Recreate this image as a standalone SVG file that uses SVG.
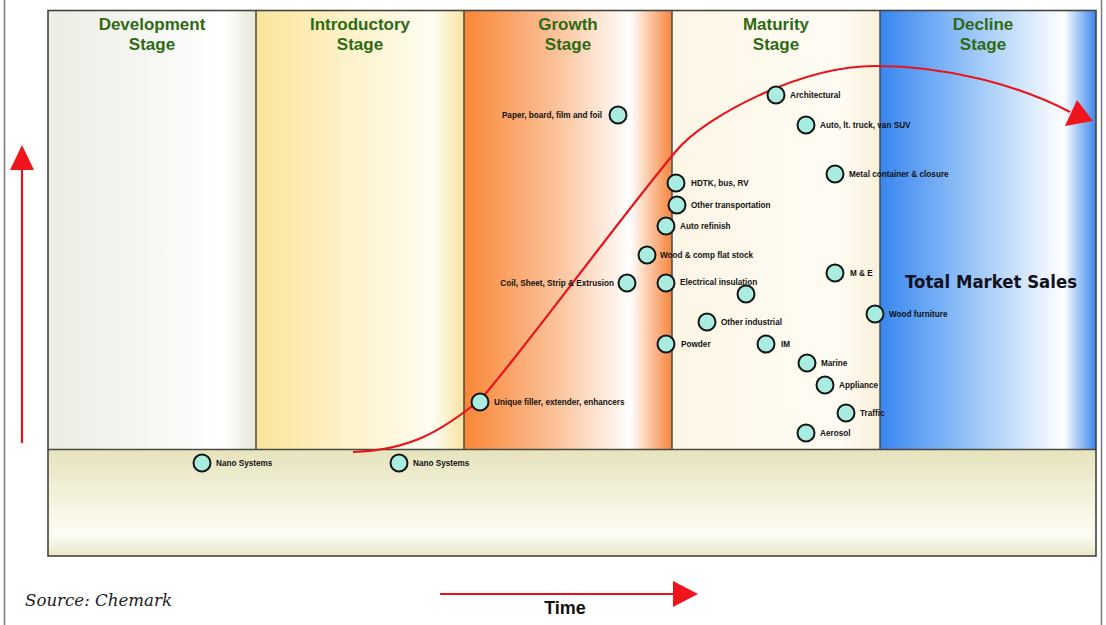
<svg xmlns="http://www.w3.org/2000/svg" width="1106" height="625" viewBox="0 0 1106 625">
  <defs>
    <linearGradient id="gDev" x1="0" y1="0" x2="1" y2="0">
      <stop offset="0" stop-color="#ebece3"/>
      <stop offset="0.85" stop-color="#ffffff"/>
      <stop offset="1" stop-color="#e6e6da"/>
    </linearGradient>
    <linearGradient id="gIntro" x1="0" y1="0" x2="1" y2="0">
      <stop offset="0" stop-color="#fbe59c"/>
      <stop offset="0.85" stop-color="#fffdf2"/>
      <stop offset="1" stop-color="#f7e4a2"/>
    </linearGradient>
    <linearGradient id="gGrowth" x1="0" y1="0" x2="1" y2="0">
      <stop offset="0" stop-color="#f98636"/>
      <stop offset="0.45" stop-color="#fcc39c"/>
      <stop offset="0.8" stop-color="#ffffff"/>
      <stop offset="1" stop-color="#f7843a"/>
    </linearGradient>
    <linearGradient id="gMature" x1="0" y1="0" x2="1" y2="0">
      <stop offset="0" stop-color="#fdf6e6"/>
      <stop offset="0.8" stop-color="#fffcf4"/>
      <stop offset="1" stop-color="#faf0da"/>
    </linearGradient>
    <linearGradient id="gDecline" x1="0" y1="0" x2="1" y2="0">
      <stop offset="0" stop-color="#3886f0"/>
      <stop offset="0.45" stop-color="#9fc9f8"/>
      <stop offset="0.85" stop-color="#ffffff"/>
      <stop offset="1" stop-color="#3a86ec"/>
    </linearGradient>
    <linearGradient id="gBase" x1="0" y1="0" x2="0" y2="1">
      <stop offset="0" stop-color="#e6e3bd"/>
      <stop offset="0.8" stop-color="#fefdf4"/>
      <stop offset="1" stop-color="#e8e5c6"/>
    </linearGradient>
    <style>
      .stage { font-family: "Liberation Sans", Arial, sans-serif; font-weight: bold; font-size: 17px; fill: #2f6a14; text-anchor: middle; }
      .col { stroke: #4a4a44; stroke-width: 1.5; }
      .dot { fill: #a9ece0; stroke: #151515; stroke-width: 2; }
      .lbl { font-family: "Liberation Sans", Arial, sans-serif; font-weight: bold; font-size: 8.2px; fill: #111; }
      .lblR { font-family: "Liberation Sans", Arial, sans-serif; font-weight: bold; font-size: 8.2px; fill: #111; text-anchor: end; }
      .red { fill: none; stroke: #e8141c; stroke-width: 2.2; }
      .redFill { fill: #f0141c; }
    </style>
  </defs>

  <!-- page frame -->
  <rect x="0" y="0" width="1106" height="625" fill="#ffffff"/>
  <rect x="4.5" y="-3" width="1097" height="632" fill="none" stroke="#7a7a7a" stroke-width="1.5"/>

  <!-- stage columns -->
  <g id="stages">
    <rect x="48" y="10.5" width="208" height="439" fill="url(#gDev)"/>
    <rect x="256" y="10.5" width="208" height="439" fill="url(#gIntro)"/>
    <rect x="464" y="10.5" width="208" height="439" fill="url(#gGrowth)"/>
    <rect x="672" y="10.5" width="208" height="439" fill="url(#gMature)"/>
    <rect x="880" y="10.5" width="216" height="439" fill="url(#gDecline)"/>
    <rect x="48" y="449.5" width="1048" height="106.5" fill="url(#gBase)"/>
    <line class="col" x1="256" y1="10.5" x2="256" y2="449.5"/>
    <line class="col" x1="464" y1="10.5" x2="464" y2="449.5"/>
    <line class="col" x1="672" y1="10.5" x2="672" y2="449.5"/>
    <line class="col" x1="880" y1="10.5" x2="880" y2="449.5"/>
    <line class="col" x1="48" y1="449.5" x2="1096" y2="449.5"/>
    <rect x="48" y="10.5" width="1048" height="545.5" fill="none" stroke="#45453f" stroke-width="1.6"/>

    <text class="stage" x="152" y="30">Development</text>
    <text class="stage" x="152" y="50">Stage</text>
    <text class="stage" x="360" y="30">Introductory</text>
    <text class="stage" x="360" y="50">Stage</text>
    <text class="stage" x="568" y="30">Growth</text>
    <text class="stage" x="568" y="50">Stage</text>
    <text class="stage" x="776" y="30">Maturity</text>
    <text class="stage" x="776" y="50">Stage</text>
    <text class="stage" x="983" y="30">Decline</text>
    <text class="stage" x="983" y="50">Stage</text>

    <text x="991" y="288" font-family="'DejaVu Sans', Verdana, sans-serif" font-weight="bold" font-size="17" fill="#111122" text-anchor="middle" textLength="172" lengthAdjust="spacingAndGlyphs">Total Market Sales</text>
  </g>

  <!-- connectors: sales curve and axes -->
  <g id="connectors">
    <path class="red" d="M353,452 C410,450 440,432 480,400 C510,368 630,205 677,150 C705,117 800,66 875,66 C950,66 1020,86 1070,112"/>
    <polygon class="redFill" points="1077,100 1065,126 1093,121"/>
    <line class="red" x1="22" y1="443" x2="22" y2="166" stroke-width="2.4"/>
    <polygon class="redFill" points="10,170 34,170 22,145"/>
    <line class="red" x1="440" y1="594" x2="676" y2="594" stroke-width="2.4"/>
    <polygon class="redFill" points="673,581 673,607 698,594"/>
  </g>

  <!-- market segments -->
  <g id="n-paper"><circle class="dot" cx="618" cy="115" r="8.5"/><text class="lblR" x="602" y="118">Paper, board, film and foil</text></g>
  <g id="n-architectural"><circle class="dot" cx="776" cy="95" r="8.5"/><text class="lbl" x="790" y="98">Architectural</text></g>
  <g id="n-auto-truck"><circle class="dot" cx="806" cy="125" r="8.5"/><text class="lbl" x="820" y="128">Auto, lt. truck, van SUV</text></g>
  <g id="n-metal"><circle class="dot" cx="835" cy="174" r="8.5"/><text class="lbl" x="849" y="177">Metal container &amp; closure</text></g>
  <g id="n-hdtk"><circle class="dot" cx="676" cy="183" r="8.5"/><text class="lbl" x="691" y="186">HDTK, bus, RV</text></g>
  <g id="n-other-transport"><circle class="dot" cx="677" cy="205" r="8.5"/><text class="lbl" x="691" y="208">Other transportation</text></g>
  <g id="n-auto-refinish"><circle class="dot" cx="666" cy="226" r="8.5"/><text class="lbl" x="680" y="229">Auto refinish</text></g>
  <g id="n-wood-flat"><circle class="dot" cx="647" cy="255" r="8.5"/><text class="lbl" x="660" y="258">Wood &amp; comp flat stock</text></g>
  <g id="n-coil"><circle class="dot" cx="627" cy="283" r="8.5"/><text class="lblR" x="614" y="286">Coil, Sheet, Strip &amp; Extrusion</text></g>
  <g id="n-electrical"><circle class="dot" cx="666" cy="283" r="8.5"/><text class="lbl" x="680" y="284.5">Electrical insulation</text></g>
  <g id="n-unlabeled"><circle class="dot" cx="746" cy="294" r="8.5"/></g>
  <g id="n-me"><circle class="dot" cx="835" cy="273" r="8.5"/><text class="lbl" x="850" y="276">M &amp; E</text></g>
  <g id="n-wood-furniture"><circle class="dot" cx="875" cy="314" r="8.5"/><text class="lbl" x="889" y="317">Wood furniture</text></g>
  <g id="n-other-industrial"><circle class="dot" cx="707" cy="322" r="8.5"/><text class="lbl" x="721" y="325">Other industrial</text></g>
  <g id="n-powder"><circle class="dot" cx="666" cy="344" r="8.5"/><text class="lbl" x="681" y="347">Powder</text></g>
  <g id="n-im"><circle class="dot" cx="766" cy="344" r="8.5"/><text class="lbl" x="781" y="347">IM</text></g>
  <g id="n-marine"><circle class="dot" cx="807" cy="363" r="8.5"/><text class="lbl" x="821" y="366">Marine</text></g>
  <g id="n-appliance"><circle class="dot" cx="825" cy="385" r="8.5"/><text class="lbl" x="839" y="388">Appliance</text></g>
  <g id="n-traffic"><circle class="dot" cx="846" cy="413" r="8.5"/><text class="lbl" x="860" y="416">Traffic</text></g>
  <g id="n-aerosol"><circle class="dot" cx="806" cy="433" r="8.5"/><text class="lbl" x="820" y="436">Aerosol</text></g>
  <g id="n-unique-filler"><circle class="dot" cx="480" cy="402" r="8.5"/><text class="lbl" x="494" y="405">Unique filler, extender, enhancers</text></g>
  <g id="n-nano-1"><circle class="dot" cx="202" cy="463" r="8.5"/><text class="lbl" x="216" y="466">Nano Systems</text></g>
  <g id="n-nano-2"><circle class="dot" cx="399" cy="463" r="8.5"/><text class="lbl" x="413" y="466">Nano Systems</text></g>

  <!-- axis caption and source note -->
  <text x="565" y="614" font-family="'Liberation Sans', Arial, sans-serif" font-weight="bold" font-size="18" fill="#111" text-anchor="middle">Time</text>
  <text x="25" y="606" font-family="'DejaVu Serif', 'Liberation Serif', serif" font-style="italic" font-size="16" fill="#222" textLength="147" lengthAdjust="spacingAndGlyphs">Source: Chemark</text>
</svg>
